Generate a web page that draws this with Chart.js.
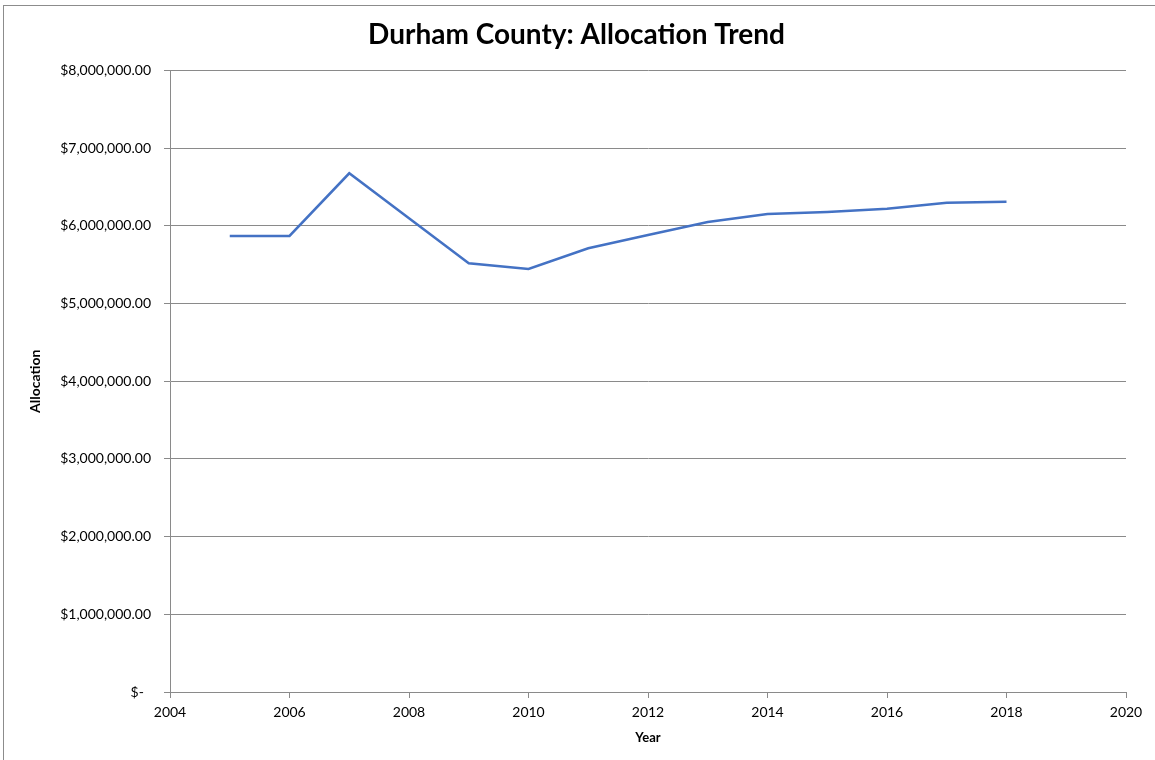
<!DOCTYPE html>
<html>
<head>
<meta charset="utf-8">
<script src="https://cdn.jsdelivr.net/npm/chart.js@4"></script>
<style>
  html, body { margin: 0; padding: 0; background: #fff; overflow: hidden; }
  #frame { position: absolute; left: 3px; top: 5px; width: 1170px; height: 780px; border: 1px solid #8c8c8c; }
  #wrap { position: absolute; left: 0; top: 0; width: 1155px; height: 760px; }
</style>
</head>
<body>
<div id="frame"></div>
<div id="wrap"><canvas id="lineChart"></canvas></div>
<script>
// values
const years = [2005, 2006, 2007, 2008, 2009, 2010, 2011, 2012, 2013, 2014, 2015, 2016, 2017, 2018];
const allocation = [5871000, 5871000, 6678000, 6099000, 5520000, 5447000, 5713000,
                    5884000, 6051000, 6154000, 6180000, 6222000, 6300000, 6313000];
const yearTicks = [2004, 2006, 2008, 2010, 2012, 2014, 2016, 2018, 2020];

const gridGray = "#8a8a8a";

function money(v) {
  if (v === 0) return "$-  ";
  return "$" + v.toLocaleString("en-US", { minimumFractionDigits: 2, maximumFractionDigits: 2 });
}

new Chart(document.getElementById("lineChart"), {
  type: "line",
  data: {
    datasets: [{
      label: "Allocation",
      data: years.map((y, i) => ({ x: y, y: allocation[i] })),
      borderColor: "#4472C4",
      borderWidth: 2.5,
      pointRadius: 0,
      fill: false,
      tension: 0,
    }],
  },
  options: {
    responsive: true,
    maintainAspectRatio: false,
    animation: false,
    layout: { padding: { left: 27, right: 29, top: 14, bottom: 14 } },
    scales: {
      x: {
        type: "linear",
        min: 2004,
        max: 2020,
        afterBuildTicks: (scale) => { scale.ticks = yearTicks.map(v => ({ value: v })); },
        afterFit: (scale) => { scale.height = 54; },
        ticks: {
          callback: (v) => String(v),
          color: "#000",
          font: { family: "Lato", size: 14 },
          padding: 6,
          maxRotation: 0,
        },
        grid: { drawOnChartArea: false, drawTicks: true, tickLength: 6, color: gridGray },
        border: { color: gridGray },
        title: {
          display: true,
          text: "Year",
          color: "#000",
          font: { family: "Lato", size: 13, weight: "bold" },
          padding: { top: 4, bottom: 0 },
        },
      },
      y: {
        min: 0,
        max: 8000000,
        afterFit: (scale) => { scale.width = 143; },
        ticks: {
          stepSize: 1000000,
          callback: (v) => money(v),
          color: "#000",
          font: { family: "Lato", size: 14 },
          padding: 13,
        },
        grid: { color: gridGray, tickLength: 6 },
        border: { color: gridGray },
        title: {
          display: true,
          text: "Allocation",
          color: "#000",
          font: { family: "Lato", size: 14, weight: "bold" },
          padding: { top: 0, bottom: 0 },
        },
      },
    },
    plugins: {
      legend: { display: false },
      tooltip: { enabled: false },
      title: {
        display: true,
        text: "Durham County: Allocation Trend",
        color: "#000",
        font: { family: "Lato", size: 28, weight: "bold" },
        padding: { top: 4, bottom: 19 },
      },
    },
  },
});
</script>
</body>
</html>
